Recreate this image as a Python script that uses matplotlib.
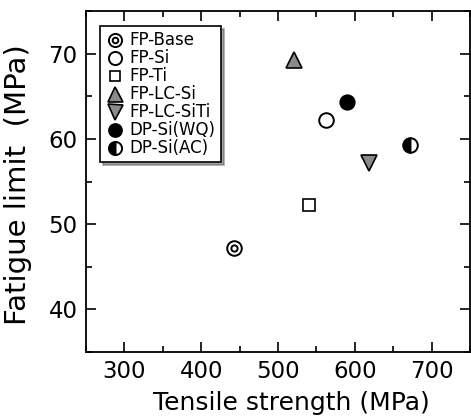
import matplotlib
matplotlib.use("Agg")
import matplotlib.pyplot as plt
from matplotlib.ticker import MultipleLocator

plt.rcParams['font.family'] = ['DejaVu Sans']

# Data (Tensile strength MPa, Fatigue limit MPa)
names = ["FP-Base", "FP-Si", "FP-Ti", "FP-LC-Si", "FP-LC-SiTi", "DP-Si(WQ)", "DP-Si(AC)"]
tensile = [443, 562, 540, 521, 619, 590, 672]
fatigue = [47.2, 62.2, 52.2, 69.3, 57.2, 64.3, 59.3]

fig = plt.figure(figsize=(4.71, 4.17), dpi=100)
ax = fig.add_axes([86/471, 1-352/417, 384/471, 341/417])

handles = []
for i, (n, x, y) in enumerate(zip(names, tensile, fatigue)):
    if n == "FP-Base":
        h1, = ax.plot([x], [y], 'o', ms=10.5, mfc='white', mec='black', mew=1.4)
        h2, = ax.plot([x], [y], 'o', ms=4.5, mfc='white', mec='black', mew=1.4)
        handles.append((h1, h2))
    elif n == "FP-Si":
        h, = ax.plot([x], [y], 'o', ms=10.5, mfc='white', mec='black', mew=1.4)
        handles.append(h)
    elif n == "FP-Ti":
        h, = ax.plot([x], [y], 's', ms=8.5, mfc='white', mec='black', mew=1.2)
        handles.append(h)
    elif n == "FP-LC-Si":
        h, = ax.plot([x], [y], '^', ms=12, mfc='#8a8a8a', mec='black', mew=1.2)
        handles.append(h)
    elif n == "FP-LC-SiTi":
        h, = ax.plot([x], [y], 'v', ms=12, mfc='#8a8a8a', mec='black', mew=1.2)
        handles.append(h)
    elif n == "DP-Si(WQ)":
        h, = ax.plot([x], [y], 'o', ms=10.5, mfc='black', mec='black', mew=1.2)
        handles.append(h)
    else:
        h, = ax.plot([x], [y], 'o', ms=10.5, fillstyle='left', mfc='black',
                     mfcalt='white', mec='black', mew=1.4)
        handles.append(h)

ax.set_xlim(250, 750)
ax.set_ylim(35, 75)
ax.xaxis.set_major_locator(MultipleLocator(100))
ax.xaxis.set_minor_locator(MultipleLocator(50))
ax.yaxis.set_major_locator(MultipleLocator(10))
ax.yaxis.set_minor_locator(MultipleLocator(5))
ax.tick_params(which='both', direction='in', top=True, right=True, width=1.2,
               labelsize=16.5, pad=6)
ax.tick_params(which='major', length=7)
ax.tick_params(which='minor', length=4)
for s in ax.spines.values():
    s.set_linewidth(1.3)

ax.set_xlabel("Tensile strength (MPa)", fontsize=18)
ax.xaxis.set_label_coords(0.536, -0.115)
ax.set_ylabel("Fatigue limit  (MPa)", fontsize=21)
ax.yaxis.set_label_coords(-0.14, 0.49)

leg = ax.legend(handles, names, loc='upper left', bbox_to_anchor=(0.036, 0.955),
                fontsize=12, frameon=True, fancybox=False, shadow=True,
                labelspacing=0.0, handletextpad=0.3, handlelength=1.2,
                borderpad=0.3, borderaxespad=0, markerscale=0.9)
leg.get_frame().set_edgecolor('black')
leg.get_frame().set_linewidth(1.2)

fig.savefig("out.png", dpi=100)
